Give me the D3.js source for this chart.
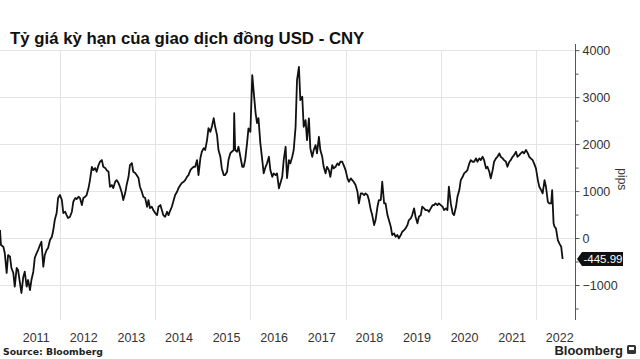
<!DOCTYPE html>
<html><head><meta charset="utf-8">
<script src="https://cdn.jsdelivr.net/npm/d3@7"></script>
<style>
html,body{margin:0;padding:0;background:#fff;}
svg{display:block;}
</style></head>
<body>
<svg id="c" width="640" height="359"></svg>
<script>
const title = "Tỷ giá kỳ hạn của giao dịch đồng USD - CNY";
const unitLabel = "pips";
const sourceLabel = "Source: Bloomberg";
const brandLabel = "Bloomberg";
const lastLabel = "-445.99";
const yTicks = [4000, 3000, 2000, 1000, 0, -1000];
const yMinorTicks = [3500, 2500, 1500, 500, -500, -1500];
const yearLabels = [2011, 2012, 2013, 2014, 2015, 2016, 2017, 2018, 2019, 2020, 2021, 2022];
const gridYears = [2012, 2014, 2016, 2018, 2020, 2022];

// decimal year
const dates = [
2010.74,2010.76,2010.81,2010.84,2010.88,2010.91,2010.95,2010.98,2011.02,2011.05,2011.09,2011.12,2011.16,2011.19,2011.23,2011.26,2011.30,2011.33,2011.37,2011.40,2011.44,2011.47,2011.51,2011.54,2011.58,2011.61,2011.65,2011.68,2011.72,2011.75,2011.79,2011.83,2011.86,2011.89,2011.93,2011.96,
2012.00,2012.04,2012.07,2012.11,2012.14,2012.17,2012.21,2012.25,2012.28,2012.32,2012.35,2012.39,2012.42,2012.46,2012.49,2012.53,2012.56,2012.60,2012.63,2012.67,2012.70,2012.74,2012.77,2012.81,2012.84,2012.88,2012.91,2012.95,2012.98,
2013.02,2013.05,2013.09,2013.12,2013.16,2013.19,2013.23,2013.26,2013.30,2013.33,2013.37,2013.40,2013.44,2013.47,2013.51,2013.54,2013.58,2013.61,2013.65,2013.68,2013.72,2013.75,2013.79,2013.83,2013.86,2013.89,2013.93,2013.96,
2014.00,2014.04,2014.07,2014.11,2014.14,2014.17,2014.21,2014.25,2014.28,2014.32,2014.35,2014.39,2014.42,2014.46,2014.49,2014.53,2014.56,2014.60,2014.63,2014.67,2014.70,2014.74,2014.77,2014.81,2014.84,2014.88,2014.91,2014.95,2014.98,
2015.02,2015.05,2015.09,2015.12,2015.16,2015.19,2015.23,2015.26,2015.30,2015.33,2015.37,2015.40,2015.44,2015.47,2015.51,2015.54,2015.58,2015.61,2015.65,2015.66,2015.68,2015.72,2015.75,2015.79,2015.83,2015.86,2015.89,2015.93,2015.96,
2016.00,2016.04,2016.07,2016.11,2016.14,2016.17,2016.21,2016.25,2016.28,2016.32,2016.35,2016.39,2016.42,2016.46,2016.49,2016.53,2016.56,2016.60,2016.63,2016.67,2016.70,2016.74,2016.77,2016.81,2016.84,2016.88,2016.91,2016.95,2016.98,
2017.02,2017.05,2017.09,2017.12,2017.16,2017.19,2017.23,2017.26,2017.30,2017.33,2017.37,2017.40,2017.44,2017.47,2017.51,2017.54,2017.58,2017.61,2017.65,2017.68,2017.72,2017.75,2017.79,2017.83,2017.86,2017.89,2017.93,2017.96,
2018.00,2018.04,2018.07,2018.11,2018.14,2018.17,2018.21,2018.25,2018.28,2018.32,2018.35,2018.39,2018.42,2018.46,2018.49,2018.53,2018.56,2018.60,2018.63,2018.67,2018.70,2018.74,2018.77,2018.81,2018.84,2018.88,2018.91,2018.95,2018.98,
2019.02,2019.05,2019.09,2019.12,2019.16,2019.19,2019.23,2019.26,2019.30,2019.33,2019.37,2019.40,2019.44,2019.47,2019.51,2019.54,2019.58,2019.61,2019.65,2019.68,2019.72,2019.75,2019.79,2019.83,2019.86,2019.89,2019.93,2019.96,
2020.00,2020.04,2020.07,2020.11,2020.14,2020.17,2020.21,2020.25,2020.28,2020.32,2020.35,2020.39,2020.42,2020.46,2020.49,2020.53,2020.56,2020.60,2020.63,2020.67,2020.70,2020.74,2020.77,2020.81,2020.84,2020.88,2020.91,2020.95,2020.98,
2021.02,2021.05,2021.09,2021.12,2021.16,2021.19,2021.23,2021.26,2021.30,2021.33,2021.37,2021.40,2021.44,2021.47,2021.51,2021.54,2021.58,2021.61,2021.65,2021.68,2021.72,2021.75,2021.79,2021.83,2021.86,2021.89,2021.93,2021.96,
2022.00,2022.04,2022.07,2022.11,2022.14,2022.18,2022.21,2022.25,2022.28,2022.32,2022.34,2022.37,2022.39,2022.42,2022.46,2022.49,2022.53,2022.56
];
const values = [
170,-149,-185,-319,-745,-362,-398,-638,-745,-1036,-638,-681,-958,-1170,-823,-717,-1036,-894,-1107,-894,-717,-426,-319,-255,-149,-79,-611,-362,-255,-213,-43,28,170,383,532,851,
915,809,532,560,489,426,453,560,772,851,830,879,851,702,851,879,915,1064,1234,1517,1447,1490,1411,1553,1624,1660,1517,1490,1447,
1411,1092,1128,1064,1198,1234,1170,1092,958,809,958,1128,1304,1553,1596,1411,1383,1341,1277,1092,985,879,851,666,809,638,666,596,
532,489,666,702,596,489,453,560,489,596,666,809,915,985,1064,1128,1170,1198,1234,1304,1341,1447,1483,1517,1517,1660,1341,1702,1837,
1915,1873,2085,2341,2262,2368,2554,2368,2192,1873,1730,1483,1341,1341,1411,1660,1809,1837,1873,2660,1873,1837,1943,1730,1517,1517,1660,2015,2334,
2262,3469,3113,2660,2447,2554,2015,1660,1377,1517,1590,1730,1447,1304,1377,1341,1377,1058,1164,1304,1660,1943,1277,1660,1590,1730,1873,2368,3362,
3645,2937,3007,2368,2511,2085,2547,1909,1730,1873,1979,1802,2156,1873,1730,1517,1377,1517,1447,1304,1553,1483,1517,1590,1553,1624,1624,1553,
1447,1270,1198,1270,1234,1198,1128,985,738,951,951,915,951,915,809,596,489,277,383,666,809,809,1198,738,738,489,383,240,64,
100,28,64,-6,64,134,170,206,277,383,419,489,632,453,313,453,489,666,632,596,596,560,632,702,702,738,702,738,
702,666,596,632,596,1092,738,526,489,666,879,1021,1234,1304,1377,1411,1447,1590,1660,1624,1624,1696,1624,1696,1660,1730,1660,1483,1517,
1411,1270,1447,1624,1696,1730,1802,1730,1696,1660,1624,1517,1624,1660,1730,1766,1837,1730,1766,1802,1837,1802,1873,1802,1730,1696,1660,1590,
1483,1234,1092,1021,951,1234,1092,772,738,738,1021,313,240,206,-43,-113,-185,-446
];

const n = Math.min(dates.length, values.length);
const data = d3.range(n).map(i => ({t: dates[i], v: values[i]}));

const svg = d3.select("#c");
const axisX = 575;
const x = d3.scaleLinear().domain([2010.74, 2022.82]).range([0, axisX]);
const y = d3.scaleLinear().domain([-1745, 4110]).range([320, 45]);
const axisFont = "'Liberation Sans Narrow','Liberation Sans',Arial,sans-serif";

// horizontal grid
svg.append("g").selectAll("line").data(yTicks).join("line")
  .attr("x1", 0).attr("x2", axisX)
  .attr("y1", d => Math.round(y(d)) + 0.5).attr("y2", d => Math.round(y(d)) + 0.5)
  .attr("stroke", "#e4e4e4").attr("stroke-width", 1);

// vertical grid
svg.append("g").selectAll("line").data(gridYears).join("line")
  .attr("x1", d => Math.round(x(d)) + 0.5).attr("x2", d => Math.round(x(d)) + 0.5)
  .attr("y1", 50).attr("y2", 320)
  .attr("stroke", "#e4e4e4").attr("stroke-width", 1);

// line
const line = d3.line().x(d => x(d.t)).y(d => y(d.v));
svg.append("path").datum(data)
  .attr("d", line).attr("fill", "none")
  .attr("stroke", "#111").attr("stroke-width", 1.8)
  .attr("stroke-linejoin", "round");

// y axis on right
const yAxis = d3.axisRight(y).tickValues(yTicks).tickSize(4).tickPadding(3).tickFormat(d3.format("d"));
const gy = svg.append("g").attr("transform", `translate(${axisX + 0.5},0)`).call(yAxis);
gy.select(".domain").remove();
gy.append("line").attr("x1", 0).attr("x2", 0).attr("y1", 44).attr("y2", 320)
  .attr("stroke", "#555").attr("stroke-width", 1);
gy.selectAll(".tick line").attr("stroke", "#555");
gy.selectAll(".tick text").attr("fill", "#333").style("font-family", axisFont).style("font-size", "12.5px");
const gym = svg.append("g").attr("transform", `translate(${axisX + 0.5},0)`)
  .call(d3.axisRight(y).tickValues(yMinorTicks).tickSize(3).tickFormat(""));
gym.select(".domain").remove();
gym.selectAll(".tick line").attr("stroke", "#555");

// x labels
svg.append("g").selectAll("text").data(yearLabels).join("text")
  .attr("x", d => x(d + 0.5)).attr("y", 342)
  .attr("text-anchor", "middle").attr("fill", "#333")
  .style("font-family", axisFont).style("font-size", "12.5px")
  .text(d => d);

// last value tag
const last = data[data.length - 1];
const ly = y(last.v);
const tag = svg.append("g").attr("transform", `translate(${axisX + 2},${ly})`);
tag.append("path").attr("d", "M0,0 L5,-7 L46,-7 L46,7 L5,7 Z").attr("fill", "#111");
tag.append("text").attr("x", 26).attr("y", 4).attr("fill", "#fff").attr("text-anchor", "middle")
  .style("font-family", axisFont).style("font-size", "11.5px").text(lastLabel);

// pips
svg.append("text").attr("transform", `translate(618,${y(1250)}) rotate(90)`)
  .attr("text-anchor", "middle").attr("fill", "#333")
  .style("font-family", "'Liberation Sans',Arial,sans-serif").style("font-size", "12px")
  .text(unitLabel);

// title
svg.append("text").attr("x", 10).attr("y", 44)
  .attr("fill", "#111").style("font-family", "'Liberation Sans',Arial,sans-serif")
  .style("font-weight", "bold").style("font-size", "16.8px").text(title);

// source
svg.append("text").attr("x", 3).attr("y", 355)
  .attr("fill", "#222").style("font-family", "'DejaVu Sans',sans-serif")
  .style("font-weight", "bold").style("font-size", "9.3px").text(sourceLabel);

// brand
svg.append("text").attr("x", 623).attr("y", 355).attr("text-anchor", "end")
  .attr("fill", "#222").style("font-family", "'Liberation Sans',Arial,sans-serif")
  .style("font-weight", "bold").style("font-size", "13px").text(brandLabel);
svg.append("rect").attr("x", 627).attr("y", 345).attr("width", 9).attr("height", 9).attr("rx", 1.5).attr("fill", "#333");
svg.append("rect").attr("x", 629).attr("y", 347).attr("width", 5).attr("height", 3).attr("fill", "#fff");
</script>
</body></html>
